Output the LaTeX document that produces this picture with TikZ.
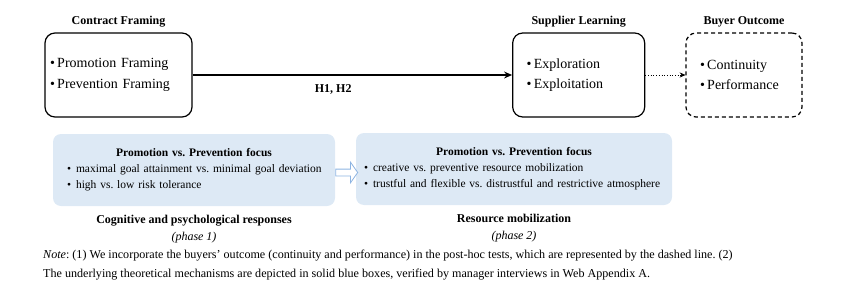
\documentclass[tikz,border=0pt]{standalone}
\usepackage{fontspec}
\setmainfont{Liberation Serif}
\usetikzlibrary{arrows.meta, positioning, calc, shapes.arrows}
\definecolor{mechblue}{HTML}{DDE9F5}
\definecolor{linkblue}{HTML}{8DB4E2}
\frenchspacing

\begin{document}
\begin{tikzpicture}[
                x=1pt, y=-1pt,
                >={Stealth[length=2.8mm, width=2.4mm]},
                construct/.style={
                        draw, rounded corners=10pt, line width=1.2pt,
                        minimum height=84pt, align=left,
                        font=\fontsize{14}{20.7}\selectfont
                    },
                heading/.style={font=\bfseries\fontsize{12}{14}\selectfont, inner sep=1pt},
                mechanism/.style={
                        fill=mechblue, rounded corners=8pt,
                        minimum height=72pt, align=left,
                        font=\fontsize{11.5}{16}\selectfont
                    },
                phase/.style={align=center, font=\fontsize{12}{17}\selectfont},
                note/.style={align=left, inner sep=0pt, font=\fontsize{12.1}{19}\selectfont},
                ]
                \useasboundingbox (0,0) rectangle (844,300);

                % constructs of the model
                \node[construct, text width=137pt, inner xsep=5pt] (framing) at (118.5,75) {\textbullet\,Promotion Framing\\\textbullet\,Prevention Framing};
                \node[construct, text width=104pt, inner xsep=14pt] (learning) at (578.7,75) {\textbullet\,Exploration\\\textbullet\,Exploitation};
                \node[construct, dashed, dash pattern=on 4pt off 3pt, text width=88pt, inner xsep=14pt] (outcome) at (744,75) {\textbullet\,Continuity\\\textbullet\,Performance};

                \node[heading, above=4pt of framing] (framingtitle) {Contract Framing};
                \node[heading, above=4pt of learning] (learningtitle) {Supplier Learning};
                \node[heading, above=4pt of outcome] (outcometitle) {Buyer Outcome};

                \draw[->, line width=1.6pt] (framing) -- node[heading, pos=0.44, below=8pt] (hyp) {H1, H2} (learning);
                \draw[-{Stealth[length=2mm, width=1.8mm]}, dotted, line width=0.7pt] (learning) -- (outcome);

                % underlying mechanisms
                \node[mechanism, text width=262pt, inner xsep=10pt] (cognition) at (194,170) {{\centering\bfseries Promotion vs. Prevention focus\par}\hspace{4pt}\textbullet\hspace{5pt}maximal goal attainment vs. minimal goal deviation\\\hspace{4pt}\textbullet\hspace{5pt}high vs. low risk tolerance};
                \node[mechanism, text width=300pt, inner xsep=8pt] (mobilization) at (514,169) {{\centering\bfseries Promotion vs. Prevention focus\par}\textbullet\hspace{5pt}creative vs. preventive resource mobilization\\\textbullet\hspace{5pt}trustful and flexible vs. distrustful and restrictive atmosphere};

                \node[single arrow, draw=linkblue, fill=white, line width=0.8pt, minimum height=22pt,
                        inner xsep=0pt, inner ysep=3pt, single arrow head extend=7pt, single arrow tip angle=110]
                        (link) at ($(cognition.east)!0.5!(mobilization.west)+(0,3)$) {};

                \node[phase, below=5pt of cognition] (cognitionlabel) {\textbf{Cognitive and psychological responses}\\\textit{(phase 1)}};
                \node[phase, below=5pt of mobilization] (mobilizationlabel) {\textbf{Resource mobilization}\\\textit{(phase 2)}};

                \node[note, anchor=west] (notetext) at (43,265.5) {\textit{Note}: (1) We incorporate the buyers' outcome (continuity and performance) in the post-hoc tests, which are represented by the dashed line. (2)\\The underlying theoretical mechanisms are depicted in solid blue boxes, verified by manager interviews in Web Appendix A.};
            \end{tikzpicture}
\end{document}
